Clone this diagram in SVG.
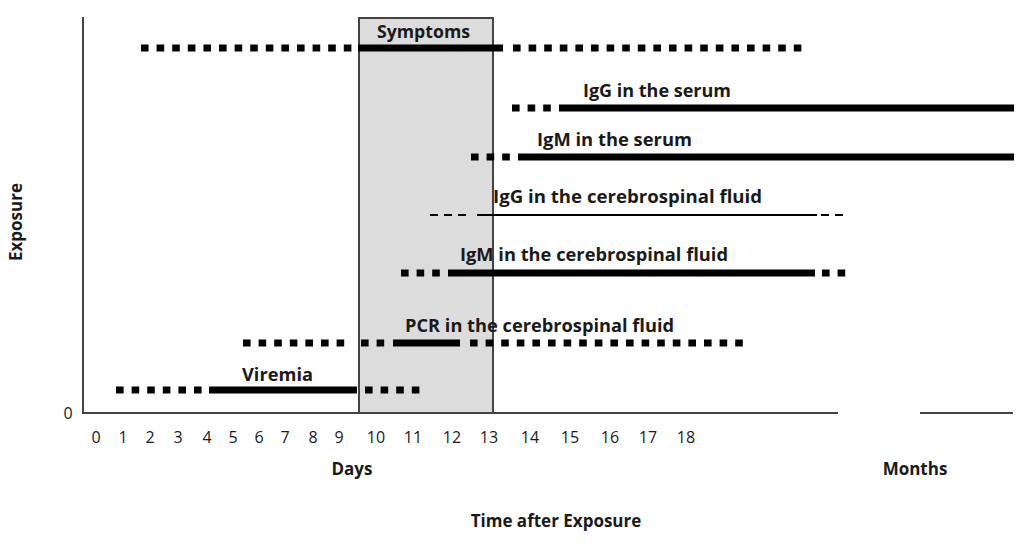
<svg xmlns="http://www.w3.org/2000/svg" width="1024" height="545" viewBox="0 0 1024 545">
<style>
text{font-family:"Open Sans","Noto Sans","Liberation Sans",sans-serif;fill:#1a1a1a}
.lbl{font-size:17.5px;font-weight:700}
.tick{font-size:16px;font-weight:400;text-anchor:middle}
.ax{font-size:17px;font-weight:700;text-anchor:middle}
.dot{stroke:#000;stroke-width:7;stroke-dasharray:7.6 8;fill:none}
.thick{stroke:#000;stroke-width:7;fill:none}
.thin{stroke:#000;stroke-width:2;fill:none}
.thindash{stroke:#000;stroke-width:2;stroke-dasharray:8 6;fill:none}
.axis{stroke:#444;stroke-width:2;fill:none}
</style>
<rect width="1024" height="545" fill="#fff"/>
<g id="symptoms-box">
<rect x="359" y="18" width="134" height="395" fill="#dcdcdc" stroke="#444" stroke-width="2"/>
</g>
<g id="axes">
<line class="axis" x1="83" y1="17" x2="83" y2="414"/>
<line class="axis" x1="82" y1="413" x2="838" y2="413"/>
<line class="axis" x1="920" y1="413" x2="1013" y2="413"/>
<text x="68" y="419" class="tick">0</text>
<text class="tick" x="96" y="443">0</text>
<text class="tick" x="123" y="443">1</text>
<text class="tick" x="150" y="443">2</text>
<text class="tick" x="178" y="443">3</text>
<text class="tick" x="207" y="443">4</text>
<text class="tick" x="233" y="443">5</text>
<text class="tick" x="259" y="443">6</text>
<text class="tick" x="285" y="443">7</text>
<text class="tick" x="313" y="443">8</text>
<text class="tick" x="339" y="443">9</text>
<text class="tick" x="376" y="443">10</text>
<text class="tick" x="413" y="443">11</text>
<text class="tick" x="452" y="443">12</text>
<text class="tick" x="489" y="443">13</text>
<text class="tick" x="530" y="443">14</text>
<text class="tick" x="570" y="443">15</text>
<text class="tick" x="610" y="443">16</text>
<text class="tick" x="648" y="443">17</text>
<text class="tick" x="686" y="443">18</text>
<text class="ax" x="352" y="475">Days</text>
<text class="ax" x="915" y="475">Months</text>
<text class="ax" x="556" y="527">Time after Exposure</text>
<text class="ax" transform="translate(22 222) rotate(-90)">Exposure</text>
</g>
<g id="connectors">
<g id="row-symptoms">
<line class="dot" x1="141" y1="48" x2="357" y2="48"/>
<line class="thick" x1="358" y1="48" x2="503" y2="48"/>
<line class="dot" x1="513" y1="48" x2="803" y2="48"/>
</g>
<g id="row-igg-serum">
<line class="dot" x1="512" y1="108" x2="552" y2="108"/>
<line class="thick" x1="559" y1="108" x2="1014" y2="108"/>
</g>
<g id="row-igm-serum">
<line class="dot" x1="471" y1="157" x2="511" y2="157"/>
<line class="thick" x1="518" y1="157" x2="1014" y2="157"/>
</g>
<g id="row-igg-csf">
<line class="thindash" x1="430" y1="215" x2="472" y2="215"/>
<line class="thin" x1="477" y1="215" x2="817" y2="215"/>
<line class="thindash" x1="821" y1="215" x2="846" y2="215"/>
</g>
<g id="row-igm-csf">
<line class="dot" x1="401" y1="273" x2="442" y2="273"/>
<line class="thick" x1="448" y1="273" x2="815" y2="273"/>
<line class="dot" x1="822" y1="273" x2="846" y2="273"/>
</g>
<g id="row-pcr">
<line class="dot" x1="243" y1="343" x2="347" y2="343"/>
<line class="dot" x1="361" y1="343" x2="385" y2="343"/>
<line class="thick" x1="393" y1="343" x2="460" y2="343"/>
<line class="dot" x1="470" y1="343" x2="744" y2="343"/>
</g>
<g id="row-viremia">
<line class="dot" x1="116" y1="390" x2="203" y2="390"/>
<line class="thick" x1="209" y1="390" x2="357" y2="390"/>
<line class="dot" x1="365" y1="390" x2="423" y2="390"/>
</g>
</g>
<g id="label-symptoms"><text class="lbl" x="377" y="38" textLength="93" lengthAdjust="spacingAndGlyphs">Symptoms</text></g>
<g id="label-igg-serum"><text class="lbl" x="583" y="97" textLength="148" lengthAdjust="spacingAndGlyphs">IgG in the serum</text></g>
<g id="label-igm-serum"><text class="lbl" x="537" y="146" textLength="155" lengthAdjust="spacingAndGlyphs">IgM in the serum</text></g>
<g id="label-igg-csf"><text class="lbl" x="493" y="203" textLength="269" lengthAdjust="spacingAndGlyphs">IgG in the cerebrospinal fluid</text></g>
<g id="label-igm-csf"><text class="lbl" x="460" y="261" textLength="268" lengthAdjust="spacingAndGlyphs">IgM in the cerebrospinal fluid</text></g>
<g id="label-pcr"><text class="lbl" x="405" y="332" textLength="269" lengthAdjust="spacingAndGlyphs">PCR in the cerebrospinal fluid</text></g>
<g id="label-viremia"><text class="lbl" x="242" y="381" textLength="71" lengthAdjust="spacingAndGlyphs">Viremia</text></g>
</svg>
